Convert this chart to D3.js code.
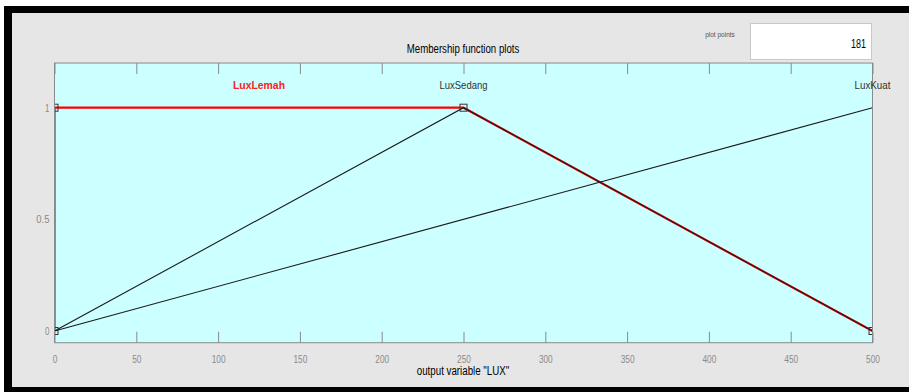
<!DOCTYPE html>
<html>
<head>
<meta charset="utf-8">
<script src="https://cdn.jsdelivr.net/npm/d3@7"></script>
<style>
  body { margin: 0; background: #fff; }
  svg { display: block; font-family: "Liberation Sans", Arial, sans-serif; }
</style>
</head>
<body>
<script>
// chart data
const xTicks = [0, 50, 100, 150, 200, 250, 300, 350, 400, 450, 500];
const yTicks = [0, 0.5, 1];
const yTickLabels = ['0', '0.5', '1'];
const mfNames = ['LuxLemah', 'LuxSedang', 'LuxKuat'];
const mfLabelX = [125, 250, 500];
const lemah = [[0, 0], [0, 1], [250, 1], [500, 0]];
const sedang = [[0, 0], [250, 1], [500, 0]];
const kuat = [[0, 0], [500, 1]];
const plotPoints = '181';

const W = 909, H = 392;

// narrow the text like the condensed window font
const squeeze = (sel, perChar) => sel
  .attr('textLength', function () { return this.textContent.length * perChar; })
  .attr('lengthAdjust', 'spacingAndGlyphs');

const svg = d3.select('body').append('svg')
  .attr('width', W)
  .attr('height', H);

// window frame
svg.append('rect').attr('x', 0).attr('y', 0).attr('width', W).attr('height', H).attr('fill', '#fff');
svg.append('rect').attr('x', 4).attr('y', 6).attr('width', W - 4).attr('height', H - 6).attr('fill', '#000');
svg.append('rect').attr('x', 12).attr('y', 13).attr('width', W - 12).attr('height', 374).attr('fill', '#e6e6e6');

// plot points box
svg.append('text')
  .attr('x', 720).attr('y', 37)
  .attr('text-anchor', 'middle')
  .attr('font-size', 7)
  .attr('fill', '#555')
  .text('plot points')
  .call(squeeze, 2.7);
svg.append('rect')
  .attr('x', 750.5).attr('y', 23.5).attr('width', 121).attr('height', 36)
  .attr('fill', '#fff').attr('stroke', '#c8c8c8');
svg.append('text')
  .attr('x', 866).attr('y', 48)
  .attr('text-anchor', 'end')
  .attr('font-size', 12)
  .attr('fill', '#000')
  .text(plotPoints)
  .call(squeeze, 5);

// title
svg.append('text')
  .attr('x', 463).attr('y', 53)
  .attr('text-anchor', 'middle')
  .attr('font-size', 12)
  .attr('fill', '#000')
  .text('Membership function plots')
  .call(squeeze, 4.5);

const x = d3.scaleLinear().domain([0, 500]).range([54.5, 872.5]);
const y = d3.scaleLinear().domain([0, 1]).range([331, 107.7]);
const yTop = y(1.2), yBottom = y(-0.0525);

const plot = svg.append('g');

svg.append('clipPath').attr('id', 'clip')
  .append('rect')
  .attr('x', x(0)).attr('y', yTop)
  .attr('width', x(500) - x(0)).attr('height', yBottom - yTop);

plot.append('rect')
  .attr('x', x(0)).attr('y', yTop)
  .attr('width', x(500) - x(0)).attr('height', yBottom - yTop)
  .attr('fill', '#ccffff');

// ticks at bottom and top, pointing inward
const axBottom = d3.axisBottom(x).tickValues(xTicks).tickSizeInner(-11).tickSizeOuter(0).tickPadding(12);
const gb = plot.append('g').attr('transform', `translate(0,${yBottom})`).call(axBottom);
gb.select('.domain').remove();
gb.selectAll('line').attr('stroke', '#8a8a8a');
gb.selectAll('text').attr('font-size', 11).attr('fill', '#8a8a8a').attr('font-family', null)
  .call(squeeze, 4.6);

const axTop = d3.axisTop(x).tickValues(xTicks).tickSizeInner(-11).tickSizeOuter(0).tickFormat('');
const gt = plot.append('g').attr('transform', `translate(0,${yTop})`).call(axTop);
gt.select('.domain').remove();
gt.selectAll('line').attr('stroke', '#8a8a8a');

const axLeft = d3.axisLeft(y).tickValues(yTicks).tickSize(0).tickPadding(5)
  .tickFormat((d, i) => yTickLabels[i]);
const gl = plot.append('g').attr('transform', `translate(${x(0)},0)`).call(axLeft);
gl.select('.domain').remove();
gl.selectAll('text').attr('font-size', 11).attr('fill', '#8a8a8a').attr('font-family', null)
  .call(squeeze, 4.4);

const line = d3.line().x(d => x(d[0])).y(d => y(d[1]));
const lines = plot.append('g').attr('clip-path', 'url(#clip)');

// selected membership function in red
lines.append('path')
  .attr('d', line(lemah))
  .attr('fill', 'none')
  .attr('stroke', '#ff0000')
  .attr('stroke-width', 2.2);

[sedang, kuat].forEach(mf => {
  lines.append('path')
    .attr('d', line(mf))
    .attr('fill', 'none')
    .attr('stroke', '#1a1a1a')
    .attr('stroke-width', 1.1);
});

// vertex markers of selected function
lines.selectAll('rect.marker')
  .data(lemah)
  .enter().append('rect')
  .attr('class', 'marker')
  .attr('x', d => x(d[0]) - 3.5)
  .attr('y', d => y(d[1]) - 3.5)
  .attr('width', 7).attr('height', 7)
  .attr('fill', 'none')
  .attr('stroke', '#333')
  .attr('stroke-width', 1);

// plot border drawn over the left edge of the red line
plot.append('rect')
  .attr('x', x(0)).attr('y', yTop)
  .attr('width', x(500) - x(0)).attr('height', yBottom - yTop)
  .attr('fill', 'none').attr('stroke', '#8a8a8a');

// membership function names
plot.selectAll('text.mf')
  .data(mfNames)
  .enter().append('text')
  .attr('class', 'mf')
  .attr('x', (d, i) => x(mfLabelX[i]))
  .attr('y', y(1.1) + 4)
  .attr('text-anchor', 'middle')
  .attr('font-size', 11)
  .attr('font-weight', (d, i) => i === 0 ? 'bold' : 'normal')
  .attr('fill', (d, i) => i === 0 ? '#ff2020' : '#333')
  .text(d => d)
  .attr('textLength', (d, i) => [52, 48, 36][i])
  .attr('lengthAdjust', 'spacingAndGlyphs');

// x axis label
svg.append('text')
  .attr('x', 463).attr('y', 375)
  .attr('text-anchor', 'middle')
  .attr('font-size', 12)
  .attr('fill', '#000')
  .text('output variable "LUX"')
  .call(squeeze, 4.4);
</script>
</body>
</html>
